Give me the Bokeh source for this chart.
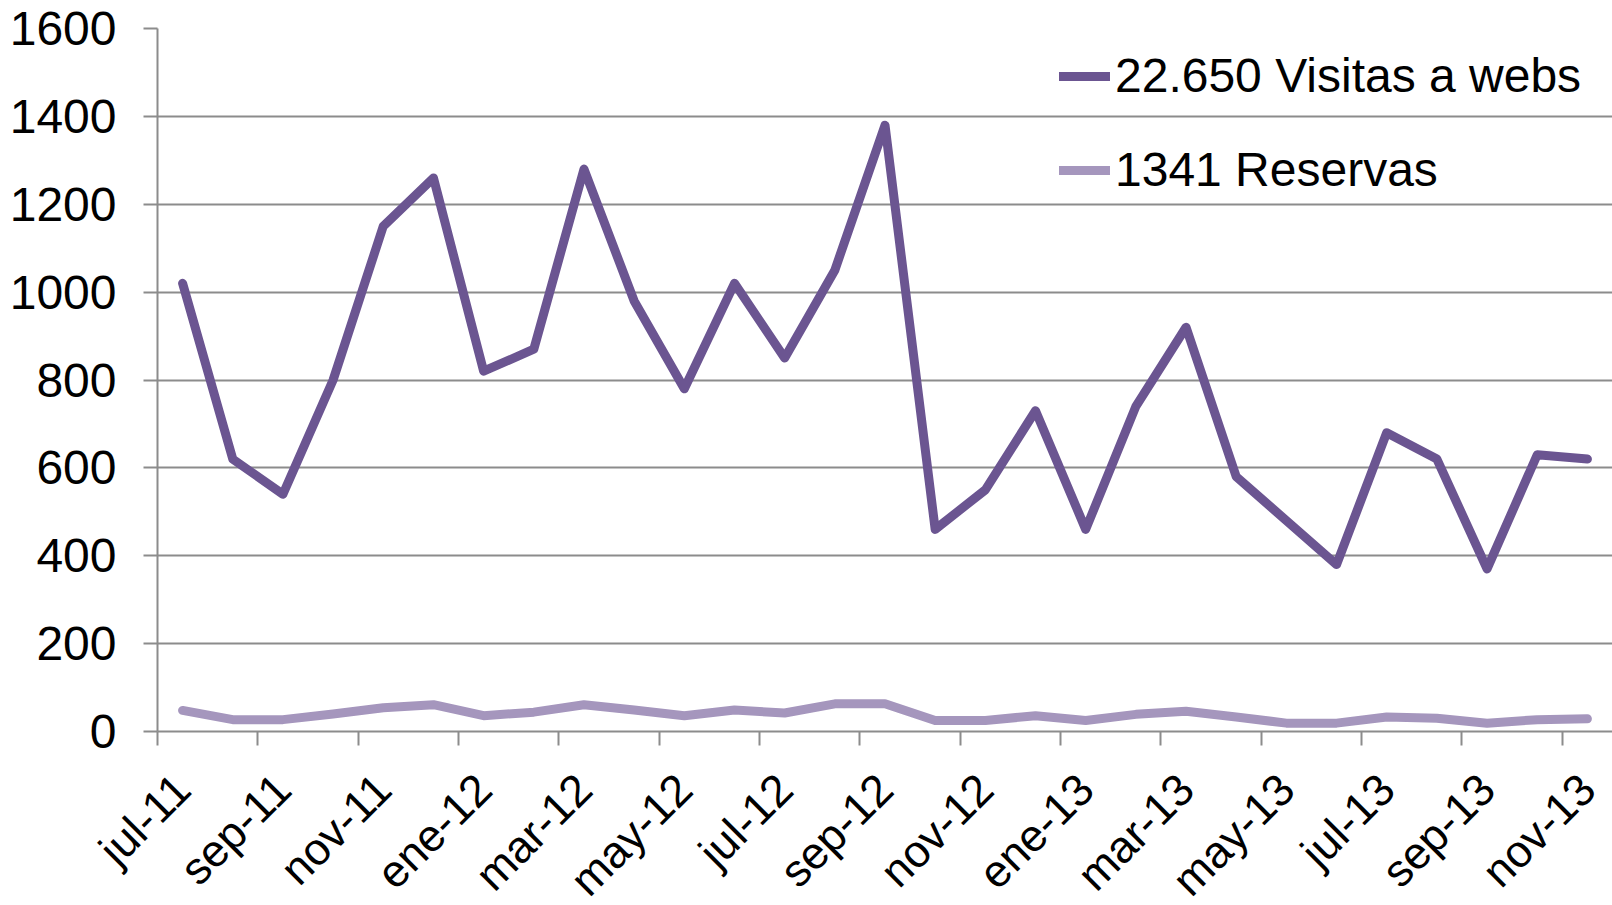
from math import pi
from bokeh.plotting import figure
from bokeh.models import Range1d, FixedTicker, Legend, LegendItem
from bokeh.embed import file_html
from bokeh.resources import INLINE

months = ["jul-11", "ago-11", "sep-11", "oct-11", "nov-11", "dic-11",
          "ene-12", "feb-12", "mar-12", "abr-12", "may-12", "jun-12",
          "jul-12", "ago-12", "sep-12", "oct-12", "nov-12", "dic-12",
          "ene-13", "feb-13", "mar-13", "abr-13", "may-13", "jun-13",
          "jul-13", "ago-13", "sep-13", "oct-13", "nov-13"]
visitas = [1020, 620, 540, 800, 1150, 1260, 820, 870, 1280, 980, 780, 1020,
           850, 1050, 1380, 460, 550, 730, 460, 740, 920, 580, 480, 380,
           680, 620, 370, 630, 620]
reservas = [48, 27, 27, 40, 54, 61, 36, 44, 61, 49, 36, 49, 42, 63, 63, 25,
            25, 36, 25, 39, 46, 33, 19, 19, 33, 30, 19, 27, 29]
series_names = ["22.650 Visitas a webs", "1341 Reservas"]
y_ticks = [0, 200, 400, 600, 800, 1000, 1200, 1400, 1600]

x = list(range(len(months)))
label_idx = x[::2]
tick_marks = [i - 0.5 for i in x[::2]]

FONT = "Liberation Sans"
GRID = "#8C8C8C"
DARK = "#6B5591"
LIGHT = "#A596BD"

p = figure(frame_width=1455, frame_height=703, output_backend="svg",
           toolbar_location=None, min_border_left=157, min_border_top=28,
           min_border_right=0, min_border_bottom=0,
           x_range=Range1d(-0.5, len(months) - 0.5), y_range=Range1d(0, 1600))
p.outline_line_color = None
p.background_fill_color = "white"
p.border_fill_color = "white"

r1 = p.line(x, visitas, line_color=DARK, line_width=9, line_cap="round", line_join="round")
r2 = p.line(x, reservas, line_color=LIGHT, line_width=9, line_cap="round", line_join="round")

# y axis
p.yaxis.ticker = FixedTicker(ticks=y_ticks)
p.yaxis.axis_line_color = GRID
p.yaxis.axis_line_width = 2
p.yaxis.major_tick_line_color = GRID
p.yaxis.major_tick_line_width = 2
p.yaxis.major_tick_out = 14
p.yaxis.major_tick_in = 0
p.yaxis.minor_tick_line_color = None
p.yaxis.major_label_standoff = 27
p.yaxis.major_label_text_font = FONT
p.yaxis.major_label_text_font_size = "48px"
p.yaxis.major_label_text_color = "black"

# x axis
p.xaxis.ticker = FixedTicker(ticks=label_idx, minor_ticks=tick_marks)
p.xaxis.major_label_overrides = {i: months[i] for i in label_idx}
p.xaxis.major_label_orientation = pi / 4
p.xaxis.axis_line_color = GRID
p.xaxis.axis_line_width = 2
p.xaxis.major_tick_out = 0
p.xaxis.major_tick_in = 0
p.xaxis.minor_tick_out = 14
p.xaxis.minor_tick_in = 0
p.xaxis.minor_tick_line_color = GRID
p.xaxis.minor_tick_line_width = 2
p.xaxis.major_label_standoff = 36
p.xaxis.major_label_text_font = FONT
p.xaxis.major_label_text_font_size = "45px"
p.xaxis.major_label_text_color = "black"

p.xgrid.visible = False
p.ygrid.ticker = FixedTicker(ticks=y_ticks)
p.ygrid.grid_line_color = GRID
p.ygrid.grid_line_width = 2

legend = Legend(items=[LegendItem(label=series_names[0], renderers=[r1]),
                       LegendItem(label=series_names[1], renderers=[r2])],
                location=(902, 534), padding=0, margin=0, spacing=39,
                glyph_width=51, glyph_height=20, label_standoff=5,
                label_text_font=FONT, label_text_font_size="48px",
                label_text_color="black",
                border_line_color=None, background_fill_alpha=0)
p.add_layout(legend)

open("out.html", "w").write(file_html(p, INLINE))
